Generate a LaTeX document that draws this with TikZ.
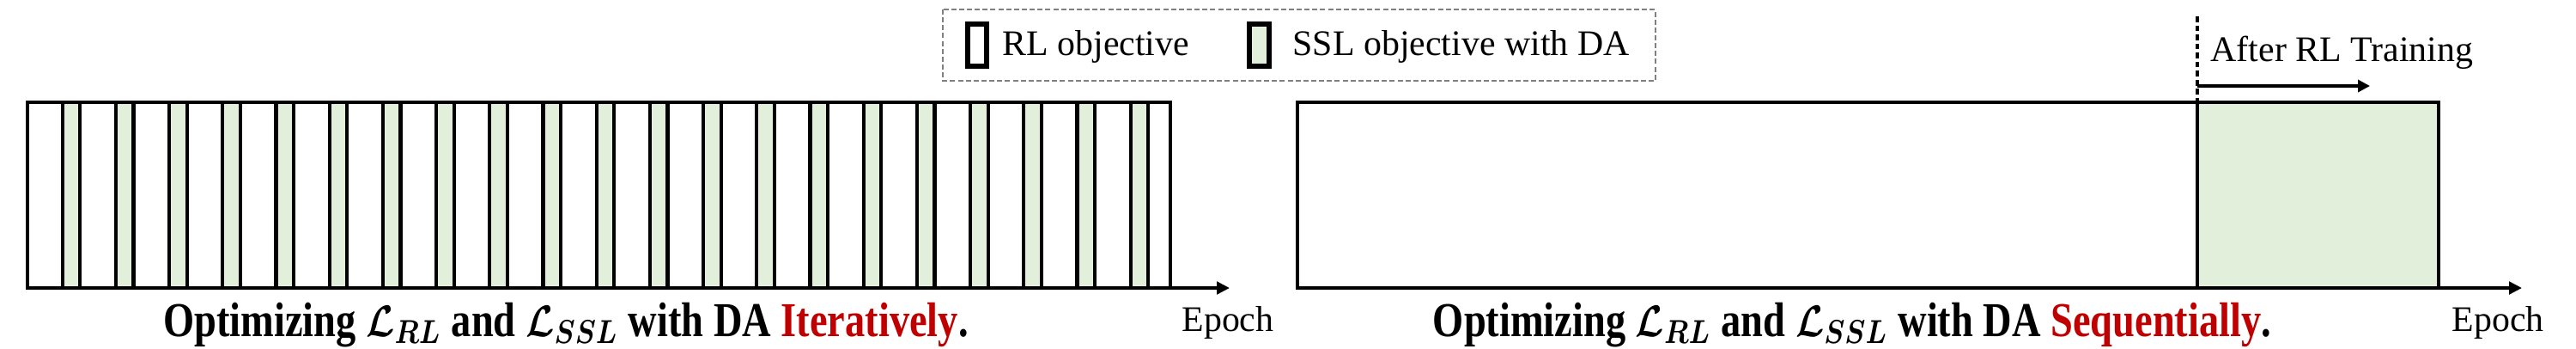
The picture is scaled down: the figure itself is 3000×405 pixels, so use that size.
\documentclass[tikz,border=0pt]{standalone}
\usepackage{graphicx}
\usepackage{fontspec}
\setmainfont{Liberation Serif}
\usetikzlibrary{arrows.meta}
\definecolor{sslgreen}{HTML}{E2EFDA}
\definecolor{capred}{HTML}{C00000}
\definecolor{legendgray}{HTML}{808080}
\newcommand{\tallcap}[1]{\scalebox{1}[1.22]{#1}}
\begin{document}
\begin{tikzpicture}[x=0.01cm,y=-0.01cm,
  box/.style={draw=black,line width=1.22pt},
  sslbox/.style={box,fill=sslgreen},
  axis/.style={draw=black,line width=1.35pt,-{Triangle[length=0.15cm,width=0.145cm]}},
  swatch/.style={draw=black,line width=1.7pt},
  lbl/.style={inner sep=0pt,font=\fontsize{11.9pt}{14pt}\selectfont},
  captext/.style={inner sep=0pt,font=\fontsize{13.2pt}{16pt}\selectfont\bfseries\boldmath}]
\useasboundingbox (0,0) rectangle (3000,405);

% ---------- legend ----------
\draw[legendgray,line width=0.65pt,dash pattern=on 1.7pt off 0.9pt] (1098,11) rectangle (1928,94);
\draw[swatch,fill=white] (1127,28) rectangle (1149,77);
\node[lbl,anchor=base west] (lrl) at (1167,64) {RL objective};
\draw[swatch,fill=sslgreen] (1455,28) rectangle (1478,77);
\node[lbl,anchor=base west] (lssl) at (1505,64) {SSL objective with DA};

% ---------- left panel ----------
\coordinate (Lo) at (32,335);
\coordinate (Le) at (1432,335);
\foreach \i in {0,...,20}{
  \filldraw[sslbox] ({72.7+62.2*\i},119) rectangle ({93.3+62.2*\i},335);
}
\draw[box] (32,119) rectangle (1362.7,335);
\draw[axis] (Lo) -- (Le);
\node[lbl,anchor=base] (epl) at (1430,385) {Epoch};
\node[captext,anchor=base] (capl) at (659,391)
  {\tallcap{Optimizing $\mathcal{L}_{RL}$ and $\mathcal{L}_{SSL}$ with DA \textcolor{capred}{Iteratively}.}};

% ---------- right panel ----------
\coordinate (Ro) at (1511,335);
\coordinate (Re) at (2937,335);
\coordinate (Dtop) at (2559,19);
\coordinate (Dbot) at (2559,119);
\coordinate (Astart) at (2559,100);
\coordinate (Aend) at (2760,100);
\draw[box,fill=white] (1511,119) rectangle (2559,335);
\filldraw[sslbox] (2559,119) rectangle (2840,335);
\draw[axis] (Ro) -- (Re);
\draw[black,line width=1.22pt,dash pattern=on 1.9pt off 1.1pt] (Dtop) -- (Dbot);
\draw[black,line width=1.22pt,-{Triangle[length=0.14cm,width=0.14cm]}] (Astart) -- (Aend);
\node[lbl,anchor=base west] (after) at (2574,71) {After RL Training};
\node[lbl,anchor=base] (epr) at (2909,385) {Epoch};
\node[captext,anchor=base] (capr) at (2157,391)
  {\tallcap{Optimizing $\mathcal{L}_{RL}$ and $\mathcal{L}_{SSL}$ with DA \textcolor{capred}{Sequentially}.}};
\end{tikzpicture}
\end{document}
